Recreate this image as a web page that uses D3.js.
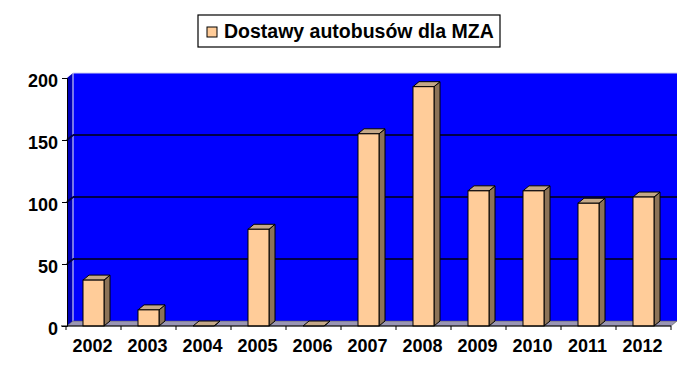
<!DOCTYPE html>
<html lang="pl">
<head>
<meta charset="UTF-8">
<script src="https://d3js.org/d3.v7.min.js"></script>
<style>
  body { margin: 0; background: #fff; font-family: Arial, "Liberation Sans", sans-serif; }
  text { font-weight: bold; fill: #000; }
</style>
</head>
<body>
<svg id="canvas" width="700" height="375"></svg>
<script>
// data
const years = ["2002", "2003", "2004", "2005", "2006", "2007", "2008", "2009", "2010", "2011", "2012"];
const deliveries = [37, 13, 0, 78, 0, 155, 193, 109, 109, 99, 104];
const yTicks = [0, 50, 100, 150, 200];
const seriesName = "Dostawy autobusów dla MZA";

const svg = d3.select("#canvas");
const plotL = 67, plotR = 671, plotT = 78, plotB = 326;
const dx = 6, dy = -5; // 3d depth

const x = d3.scaleBand().domain(years).range([plotL - 1, plotR]);
const y = d3.scaleLinear().domain([0, 200]).range([plotB, plotT]);

// side wall (left)
svg.append("path")
  .attr("d", `M${plotL},${plotB} L${plotL},${plotT} L${plotL + dx},${plotT + dy} L${plotL + dx},${plotB + dy} Z`)
  .attr("fill", "#0000b8");
// back wall
svg.append("rect")
  .attr("x", plotL + dx).attr("y", plotT + dy)
  .attr("width", plotR - plotL).attr("height", plotB - plotT)
  .attr("fill", "#0000ff");
svg.append("line")
  .attr("x1", plotL + dx).attr("x2", plotL + dx)
  .attr("y1", plotT + dy).attr("y2", plotB + dy)
  .attr("stroke", "#c8c8f0").attr("stroke-width", 1.2);
svg.append("line")
  .attr("x1", plotL + dx).attr("x2", plotR + dx)
  .attr("y1", plotT + dy).attr("y2", plotT + dy)
  .attr("stroke", "#d0d0f0").attr("stroke-width", 1);

// gridlines on the walls
const gridVals = yTicks.filter(d => d > 0 && d < 200);
const grid = svg.append("g");
grid.selectAll(".gb")
  .data(gridVals)
  .join("line")
  .attr("class", "gb")
  .attr("x1", plotL + dx).attr("x2", plotR + dx)
  .attr("y1", d => y(d) + dy).attr("y2", d => y(d) + dy)
  .attr("stroke", "#00004a").attr("stroke-width", 2.2);
grid.selectAll(".gs")
  .data(gridVals)
  .join("line")
  .attr("class", "gs")
  .attr("x1", plotL).attr("x2", plotL + dx)
  .attr("y1", d => y(d)).attr("y2", d => y(d) + dy)
  .attr("stroke", "#00004a").attr("stroke-width", 2.2);

// floor
svg.append("path")
  .attr("d", `M${plotL},${plotB} L${plotR},${plotB} L${plotR + dx},${plotB + dy} L${plotL + dx},${plotB + dy} Z`)
  .attr("fill", "#9a96b4").attr("stroke", "#555").attr("stroke-width", 0.6);

// bars
const bw = 21, off = 17;
const bars = svg.append("g").selectAll("g")
  .data(years.map((yr, i) => ({ yr, v: deliveries[i] })))
  .join("g");

bars.append("path") // side
  .attr("d", d => {
    const x1 = x(d.yr) + off + bw, y0 = plotB, y1 = y(d.v);
    return `M${x1},${y0} L${x1},${y1} L${x1 + dx},${y1 + dy} L${x1 + dx},${y0 + dy} Z`;
  })
  .attr("fill", "#8c7358").attr("stroke", "#000").attr("stroke-width", 1).attr("stroke-linejoin", "round");
bars.append("path") // top
  .attr("d", d => {
    const x0 = x(d.yr) + off, y1 = y(d.v);
    return `M${x0},${y1} L${x0 + bw},${y1} L${x0 + bw + dx},${y1 + dy} L${x0 + dx},${y1 + dy} Z`;
  })
  .attr("fill", "#c4a888").attr("stroke", "#000").attr("stroke-width", 1).attr("stroke-linejoin", "round");
bars.append("rect") // front
  .attr("x", d => x(d.yr) + off)
  .attr("y", d => y(d.v))
  .attr("width", bw)
  .attr("height", d => plotB - y(d.v))
  .attr("fill", "#ffcc99").attr("stroke", "#000").attr("stroke-width", 1);

// axes
const yAxis = svg.append("g")
  .attr("transform", `translate(${plotL},0)`)
  .call(d3.axisLeft(y).tickValues(yTicks).tickSize(5).tickPadding(4));
yAxis.selectAll("text").style("font-size", "18px").attr("dy", "0.45em");

const xAxis = svg.append("g")
  .attr("transform", `translate(0,${plotB})`)
  .call(d3.axisBottom(x).tickSize(0).tickPadding(13));
xAxis.select(".domain").remove();
xAxis.selectAll("text").style("font-size", "18px").attr("dx", "-1px");
svg.append("line")
  .attr("x1", plotL - 6).attr("x2", plotR).attr("y1", plotB).attr("y2", plotB)
  .attr("stroke", "#000");
svg.append("g").selectAll("line")
  .data(years.concat(["end"]))
  .join("line")
  .attr("x1", (d, i) => i < years.length ? x(d) : plotR)
  .attr("x2", (d, i) => i < years.length ? x(d) : plotR)
  .attr("y1", plotB).attr("y2", plotB + 4)
  .attr("stroke", "#000");
svg.selectAll(".domain").attr("stroke", "#000");

// legend
const lg = svg.append("g").attr("transform", "translate(198,15)");
lg.append("rect").attr("width", 302).attr("height", 32)
  .attr("fill", "#fff").attr("stroke", "#000").attr("stroke-width", 1.2);
lg.append("rect").attr("x", 9).attr("y", 12).attr("width", 10).attr("height", 10)
  .attr("fill", "#ffcc99").attr("stroke", "#000");
lg.append("text").attr("x", 26).attr("y", 23)
  .style("font-size", "19.5px").text(seriesName);
</script>
</body>
</html>
